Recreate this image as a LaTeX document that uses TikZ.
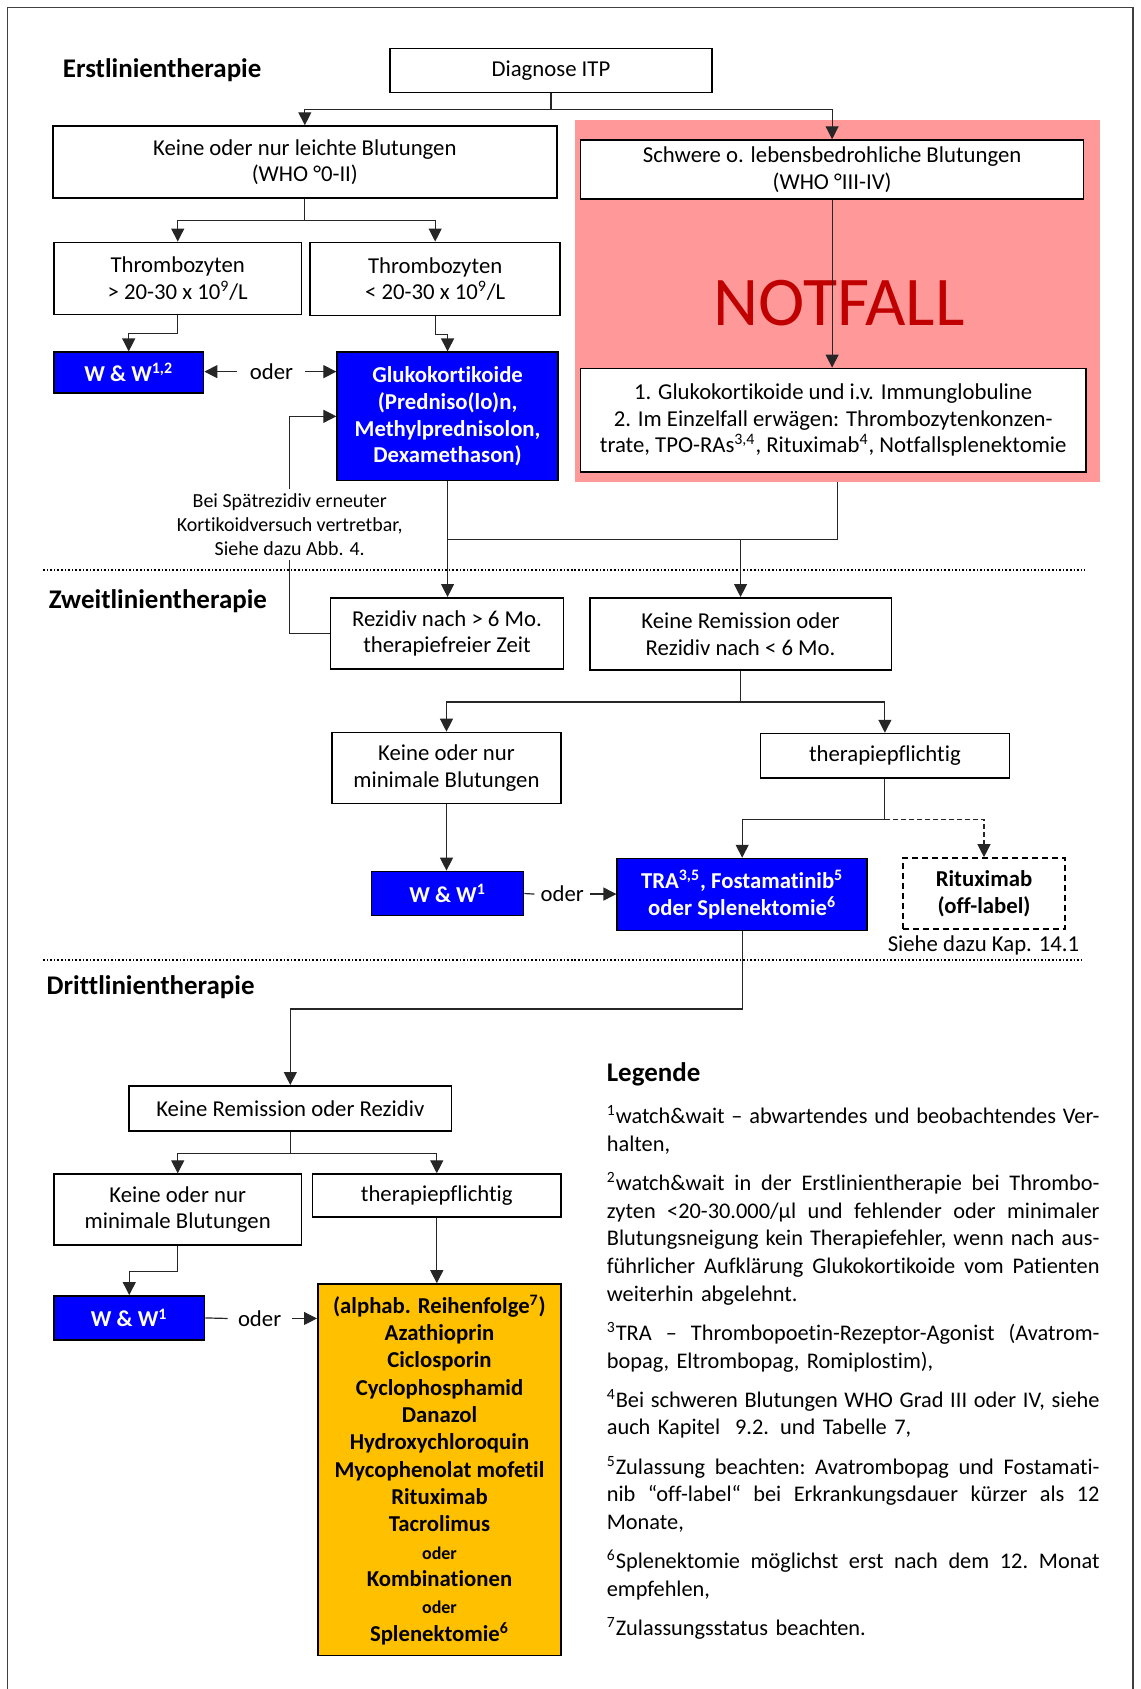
\documentclass[tikz,border=0pt]{standalone}
\usepackage{fontspec}
\setmainfont{Carlito}[Ligatures={NoCommon}]
\usepackage{xcolor}
\usetikzlibrary{arrows.meta}

\definecolor{wwblue}{HTML}{0000FF}
\definecolor{alarmpink}{HTML}{FF9999}
\definecolor{alarmred}{HTML}{C00000}
\definecolor{drugorange}{HTML}{FFC000}

\newlength\legw
\setlength\legw{247pt}
\newcommand\jl[1]{\makebox[\legw][s]{\frenchspacing\spaceskip=0.23em plus 1fil\relax #1}\\}

\tikzset{
  wh/.style 2 args={minimum width=#1*0.54pt, minimum height=#2*0.54pt},
  box/.style={draw, fill=white, line width=0.8pt, align=center, inner sep=0pt,
    font=\fontsize{11.4}{13.4}\selectfont},
  bluebox/.style={box, fill=wwblue, text=white,
    font=\fontsize{11.4}{13.5}\selectfont\bfseries},
  conn/.style={line width=0.6pt, draw=black!85},
  arr/.style={conn, -{Triangle[length=6.5pt,width=6.5pt]}},
  sectitle/.style={anchor=west, inner sep=0pt, font=\fontsize{13.5}{16}\selectfont\bfseries},
  sepline/.style={line width=1pt, dash pattern=on 0.8pt off 1pt},
  odertext/.style={inner ysep=0pt, font=\fontsize{11.4}{13.4}\selectfont},
}

\begin{document}
\begin{tikzpicture}[x=0.54pt, y=-0.54pt]
        % \draw[help lines] grid(1059,1568);
        \useasboundingbox (0,0) rectangle (1059,1568);
        \draw[line width=0.8pt, black!75] (7,1568) |- (1052,7) -- (1052,1568);

        \node[sectitle] (erst) at (58,65) {Erstlinientherapie};
        \node[sectitle] (zweit) at (45,558) {Zweitlinientherapie};
        \node[sectitle] (dritt) at (43,916) {Drittlinientherapie};

        \draw[sepline] (40,529.5) -- (1007,529.5);
        \draw[sepline] (40,891) -- (1005,891);

        % notfall area
        \node[fill=alarmpink, inner sep=0pt, wh={487}{336}] (notfallbg) at (777.5,279) {};
        \node[text=alarmred, inner sep=0pt, font=\fontsize{35}{40}\selectfont] (notfall) at (779,281) {NOTFALL};

        % erstlinie
        \node[box, wh={299}{41}] (diag) at (511.5,65.5) {Diagnose ITP};
        \node[box, wh={468}{67}] (bleedmild) at (283,150.5) {Keine oder nur leichte Blutungen\\(WHO °0-II)};
        \node[box, wh={467}{55}] (bleedsev) at (772.5,157.5) {Schwere o. lebensbedrohliche Blutungen\\(WHO °III-IV)};
        \node[box, wh={469}{96}] (emerg) at (773.5,390) {1. Glukokortikoide und i.v. Immunglobuline\\2. Im Einzelfall erwägen: Thrombozytenkonzen-\\trate, TPO-RAs\textsuperscript{3,4}, Rituximab\textsuperscript{4}, Notfallsplenektomie};
        \node[box, wh={230}{67}] (thrhigh) at (165,258.5) {Thrombozyten\\> 20-30 x 10\textsuperscript{9}/L};
        \node[box, wh={232}{68}] (thrlow) at (404,259) {Thrombozyten\\< 20-30 x 10\textsuperscript{9}/L};
        \node[bluebox, wh={139}{38}] (wwa) at (119.5,346) {W \& W\textsuperscript{1,2}};
        \node[bluebox, wh={205}{119}] (gluko) at (415.5,386.5) {Glukokortikoide\\(Predniso(lo)n,\\Methylprednisolon,\\Dexamethason)};
        \node[odertext, inner xsep=6pt] (odera) at (252,345) {oder};
        \node[align=center, inner sep=2pt, font=\fontsize{10}{11.9}\selectfont] (note) at (269,487) {Bei Spätrezidiv erneuter\\Kortikoidversuch vertretbar,\\Siehe dazu Abb. 4.};

        \draw[arr] (diag.south) -- ++(0,15) -| (bleedmild.north);
        \draw[arr] (diag.south) -- ++(0,15) -| (bleedsev.north);
        \draw[arr] (bleedsev.south) -- (bleedsev.south |- emerg.north);
        \draw[arr] (bleedmild.south) -- ++(0,20) -| (thrhigh.north);
        \draw[arr] (bleedmild.south) -- ++(0,20) -| (thrlow.north);
        \draw[arr] (thrhigh.south) -- ++(0,17) -| (wwa.north);
        \draw[arr] (thrlow.south) -- ++(0,17) -| (gluko.north);
        \draw[arr] (odera.west) -- (wwa.east |- odera.west);
        \draw[arr] (odera.east) -- (gluko.west |- odera.east);

        % zweitlinie
        \node[box, wh={216}{66}] (rez) at (415,588) {Rezidiv nach > 6 Mo.\\therapiefreier Zeit};
        \node[box, wh={280}{67}] (norem) at (687.5,588.5) {Keine Remission oder\\Rezidiv nach < 6 Mo.};
        \node[box, wh={213}{66}] (minimalb) at (414.5,713) {Keine oder nur\\minimale Blutungen};
        \node[box, wh={231}{41}] (therapb) at (821.5,701.5) {therapiepflichtig};
        \node[bluebox, wh={141}{41}] (wwb) at (415.5,829.5) {W \& W\textsuperscript{1}};
        \node[bluebox, wh={232}{67}] (tra) at (689,830.5) {TRA\textsuperscript{3,5}, Fostamatinib\textsuperscript{5}\\oder Splenektomie\textsuperscript{6}};
        \node[box, wh={150}{66}, dash pattern=on 3pt off 2pt, font=\fontsize{11.4}{13.5}\selectfont\bfseries] (ritux) at (913.5,829.5) {Rituximab\\(off-label)};
        \node[odertext, inner sep=0pt] (kap) at (913,878) {Siehe dazu Kap. 14.1};
        \node[odertext, inner xsep=3pt] (oderb) at (522,830) {oder};

        \coordinate (merge) at (415.5,501);
        \draw[conn] (rez.west) -| (note.south);
        \draw[arr] (note.north) |- (gluko.west);
        \draw[arr] (gluko.south) -- (gluko.south |- rez.north);
        \draw[conn] (notfallbg.south) |- (merge);
        \draw[arr] (norem.north |- merge) -- (norem.north);
        \draw[arr] (norem.south) -- ++(0,29) -| (minimalb.north);
        \draw[arr] (norem.south) -- ++(0,29) -| (therapb.north);
        \draw[arr] (minimalb.south) -- (minimalb.south |- wwb.north);
        \draw[arr] (therapb.south) -- ++(0,38) coordinate (split) -| (tra.north);
        \draw[arr, dash pattern=on 2.5pt off 1.5pt] (split) -| (ritux.north);
        \draw[conn] (wwb.east) -- (oderb.west);
        \draw[arr] (oderb.east) -- (tra.west |- oderb.east);

        % drittlinie
        \node[box, wh={299}{42}] (krr) at (269.5,1029) {Keine Remission oder Rezidiv};
        \node[box, wh={230}{66}] (minimalc) at (165,1123) {Keine oder nur\\minimale Blutungen};
        \node[box, wh={231}{40}] (therapc) at (405.5,1110) {therapiepflichtig};
        \node[bluebox, wh={140}{41}] (wwc) at (120,1223.5) {W \& W\textsuperscript{1}};
        \node[box, fill=drugorange, wh={226}{345}, font=\fontsize{11.4}{13.7}\selectfont\bfseries] (drugs) at (408,1364.5) {(alphab. Reihenfolge\textsuperscript{7})\\Azathioprin\\Ciclosporin\\Cyclophosphamid\\Danazol\\Hydroxychloroquin\\Mycophenolat mofetil\\Rituximab\\Tacrolimus\\{\fontsize{9}{13.7}\selectfont oder}\\Kombinationen\\{\fontsize{9}{13.7}\selectfont oder}\\Splenektomie\textsuperscript{6}};
        \node[odertext, inner xsep=5pt] (oderc) at (241,1224) {oder};

        \draw[arr] (tra.south) -- ++(0,72) -| (krr.north);
        \draw[arr] (krr.south) -- ++(0,20) -| (minimalc.north);
        \draw[arr] (krr.south) -- ++(0,20) -| (therapc.north);
        \draw[arr] (minimalc.south) -- ++(0,24) -| (wwc.north);
        \draw[arr] (therapc.south) -- (therapc.south |- drugs.north);
        \draw[conn] (wwc.east) -- (oderc.west);
        \draw[arr] (oderc.east) -- (drugs.west |- oderc.east);

        % legende
        \node[sectitle] (legtitle) at (563,997) {Legende};
        \node[anchor=north west, inner sep=0pt, align=left, text width=\legw,
          font=\fontsize{11.2}{13.9}\selectfont] (legtext) at (563,1026) {%
\jl{\textsuperscript{1}watch\&wait – abwartendes und beobachtendes Ver-}
halten,\\[5.7pt]
\jl{\textsuperscript{2}watch\&wait in der Erstlinientherapie bei Thrombo-}
\jl{zyten <20-30.000/µl und fehlender oder minimaler}
\jl{Blutungsneigung kein Therapiefehler, wenn nach aus-}
\jl{führlicher Aufklärung Glukokortikoide vom Patienten}
weiterhin abgelehnt.\\[5.7pt]
\jl{\textsuperscript{3}TRA – Thrombopoetin-Rezeptor-Agonist (Avatrom-}
bopag, Eltrombopag, Romiplostim),\\[5.7pt]
\jl{\textsuperscript{4}Bei schweren Blutungen WHO Grad III oder IV, siehe}
auch Kapitel\ \ 9.2. und Tabelle 7,\\[5.7pt]
\jl{\textsuperscript{5}Zulassung beachten: Avatrombopag und Fostamati-}
\jl{nib “off-label“ bei Erkrankungsdauer kürzer als 12}
Monate,\\[5.7pt]
\jl{\textsuperscript{6}Splenektomie möglichst erst nach dem 12. Monat}
empfehlen,\\[5.7pt]
\textsuperscript{7}Zulassungsstatus beachten.};
    \end{tikzpicture}
\end{document}
